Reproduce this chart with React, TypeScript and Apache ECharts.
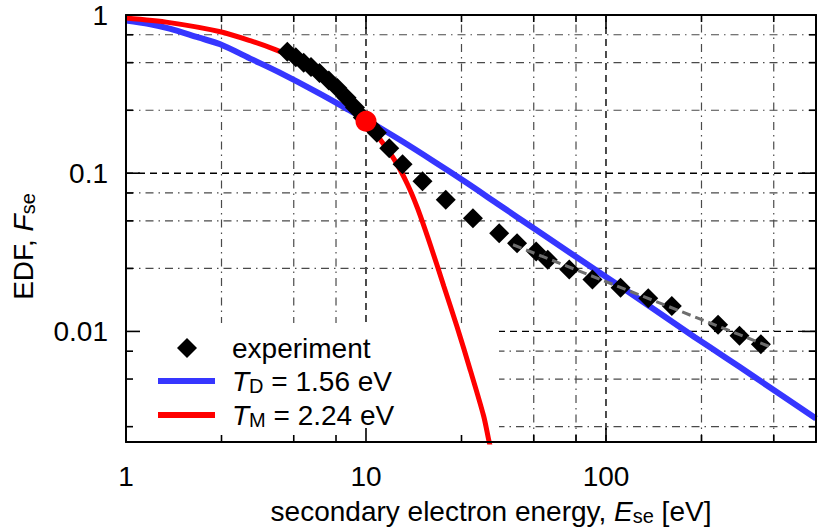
import React, { useEffect, useRef } from 'react';
import * as echarts from 'echarts';

// ---- axes ----
const X_MIN = 1;
const X_MAX = 750;
const Y_MIN = 0.002;
const Y_MAX = 1;
const X_MAJOR = [1, 10, 100];
const X_MINOR = [2.5, 5, 7.5, 25, 50, 75, 250, 500];
const Y_MAJOR = [0.01, 0.1, 1];
const Y_MINOR = [0.0025, 0.005, 0.0075, 0.025, 0.05, 0.075, 0.25, 0.5, 0.75];
const X_TICK_LABELS = ['1', '10', '100'];
const Y_TICK_LABELS = ['0.01', '0.1', '1'];

// ---- experiment ----
const EXP_E = [4.7, 5.1, 5.5, 5.9, 6.4, 7.0, 7.6, 8.3, 9.0, 9.7, 10.4, 11.1, 12.5, 14.2, 17.2, 21.5, 27.9, 35.9, 42.6, 51.2, 57.2, 70.3, 87.8, 115, 150, 188, 293, 360, 442];
const EXP_F = [0.585, 0.54, 0.5, 0.47, 0.43, 0.385, 0.345, 0.3, 0.26, 0.225, 0.2, 0.18, 0.144, 0.114, 0.089, 0.068, 0.052, 0.0418, 0.0361, 0.032, 0.0284, 0.0246, 0.0213, 0.0189, 0.0162, 0.0145, 0.011, 0.0094, 0.0083];

// ---- T_D = 1.56 eV curve ----
const TD_E = [1, 1.25, 1.52, 2.0, 2.47, 3.35, 4.33, 6.33, 8.66, 10, 13.93, 19.26, 26.36, 35.05, 49.85, 99.8, 150.3, 233.6, 311, 416, 750];
const TD_F = [0.924, 0.878, 0.82, 0.721, 0.653, 0.524, 0.435, 0.322, 0.247, 0.2185, 0.1614, 0.1182, 0.0866, 0.0646, 0.045, 0.02216, 0.01459, 0.00923, 0.00692, 0.00515, 0.00282];

// ---- T_M = 2.24 eV curve ----
const TM_E = [1, 1.52, 2.445, 3.36, 4.19, 5.04, 6.05, 7.06, 8.07, 9.0, 10, 11.52, 13.13, 14.9, 16.39, 18.59, 21.12, 23.97, 27.2, 30.9, 32.4, 34];
const TM_F = [0.957, 0.895, 0.786, 0.681, 0.604, 0.534, 0.447, 0.371, 0.307, 0.257, 0.213, 0.1614, 0.1218, 0.0849, 0.0601, 0.0348, 0.01924, 0.01066, 0.00569, 0.00293, 0.00209, 0.0015];

// ---- power-law fit (grey dashed) ----
const FIT_E = [41, 492];
const FIT_F = [0.0353, 0.0079];

// ---- matching point ----
const MATCH_E = [10];
const MATCH_F = [0.213];

const FONT = 'Liberation Sans';

const RICH: any = {
  n: { fontSize: 28, fontFamily: FONT, color: '#000', lineHeight: 30 },
  i: { fontSize: 28, fontFamily: FONT, fontStyle: 'italic', color: '#000', lineHeight: 30 },
  s: { fontSize: 20, fontFamily: FONT, color: '#000', verticalAlign: 'bottom', lineHeight: 16 },
};

const LEGEND_TEXT: Record<string, string> = {
  experiment: '{n|experiment}',
  TD: '{i|T}{s|D}{n| = 1.56 eV}',
  TM: '{i|T}{s|M}{n| = 2.24 eV}',
};

const zip = (a: number[], b: number[]) => a.map((v, i) => [v, b[i]]);

function labelFor(v: number, majors: number[], labels: string[]) {
  for (let i = 0; i < majors.length; i++) {
    if (Math.abs(v / majors[i] - 1) < 1e-6) return labels[i];
  }
  return '';
}

export default function App() {
  const ref = useRef<HTMLDivElement>(null);
  useEffect(() => {
    if (!ref.current) return;
    const chart = echarts.init(ref.current, undefined, { renderer: 'svg' });

    // grid lines: [value, 1, dir(0=vertical,1=horizontal), minor]
    const gridData: number[][] = [];
    X_MAJOR.forEach((v) => gridData.push([v, 1, 0, 0]));
    X_MINOR.forEach((v) => gridData.push([v, 1, 0, 1]));
    Y_MAJOR.forEach((v) => gridData.push([v, 1, 1, 0]));
    Y_MINOR.forEach((v) => gridData.push([v, 1, 1, 1]));

    const axisCommon = {
      type: 'log' as const,
      logBase: 10,
      z: 9,
      axisLine: { show: true, onZero: false, lineStyle: { color: '#000', width: 2 } },
      axisTick: { show: false },
      splitLine: { show: false },
      minorTick: { show: false },
      minorSplitLine: { show: false },
    };

    const legendText = {
      fontSize: 28,
      fontFamily: FONT,
      color: '#000',
      lineHeight: 30,
      rich: RICH,
    };

    chart.setOption({
      animation: false,
      backgroundColor: '#fff',
      grid: { left: 126, top: 15, width: 696, height: 431, containLabel: false },
      xAxis: [
        {
          ...axisCommon,
          position: 'bottom',
          min: X_MIN,
          max: X_MAX,
          axisLabel: {
            margin: 20,
            fontSize: 28,
            fontFamily: FONT,
            color: '#000',
            formatter: (v: number) => labelFor(v, X_MAJOR, X_TICK_LABELS),
          },
          name: '{n|secondary electron energy, }{i|E}{s|se}{n| [eV]}',
          nameLocation: 'middle',
          nameGap: 54,
          nameTextStyle: { rich: RICH, padding: [0, 0, 0, 40] },
        },
        {
          ...axisCommon,
          position: 'top',
          min: X_MIN,
          max: X_MAX,
          axisLabel: { show: false },
        },
      ],
      yAxis: [
        {
          ...axisCommon,
          position: 'left',
          min: Y_MIN,
          max: Y_MAX,
          axisLabel: {
            margin: 18,
            fontSize: 28,
            fontFamily: FONT,
            color: '#000',
            formatter: (v: number) => labelFor(v, Y_MAJOR, Y_TICK_LABELS),
          },
          name: '{n|EDF, }{i|F}{s|se}',
          nameLocation: 'middle',
          nameGap: 88,
          nameTextStyle: { rich: RICH, padding: [0, 36, 0, 0] },
        },
        {
          ...axisCommon,
          position: 'right',
          min: Y_MIN,
          max: Y_MAX,
          axisLabel: { show: false },
        },
      ],
      legend: [
        {
          orient: 'vertical',
          left: 177,
          top: 333,
          padding: 0,
          itemWidth: 20,
          itemHeight: 20,
          itemGap: 0,
          selectedMode: false,
          data: [{ name: 'experiment', icon: 'diamond' }],
          formatter: (n: string) => LEGEND_TEXT[n] ?? n,
          textStyle: { ...legendText, padding: [0, 0, 0, 30] },
          z: 10,
        },
        {
          orient: 'vertical',
          left: 158,
          top: 366,
          padding: 0,
          itemWidth: 57,
          itemHeight: 6,
          itemGap: 4,
          selectedMode: false,
          data: [
            { name: 'TD', icon: 'rect' },
            { name: 'TM', icon: 'rect' },
          ],
          formatter: (n: string) => LEGEND_TEXT[n] ?? n,
          textStyle: { ...legendText, padding: [0, 0, 0, 12] },
          z: 10,
        },
      ],
      graphic: [
        {
          type: 'rect',
          z: 1,
          silent: true,
          shape: { x: 127, y: 323, width: 372, height: 122 },
          style: { fill: '#fff' },
        },
      ],
      series: [
        {
          type: 'custom',
          name: 'grid',
          z: 0,
          silent: true,
          encode: { x: 0, y: 1 },
          data: gridData,
          renderItem: (params: any, api: any) => {
            const v = api.value(0);
            const dir = api.value(2);
            const minor = api.value(3);
            const a = dir === 0 ? api.coord([v, Y_MIN]) : api.coord([X_MIN, v]);
            const b = dir === 0 ? api.coord([v, Y_MAX]) : api.coord([X_MAX, v]);
            return {
              type: 'line',
              shape: { x1: a[0], y1: a[1], x2: b[0], y2: b[1] },
              style: {
                stroke: minor ? '#4a4a4a' : '#000',
                lineWidth: minor ? 1.2 : 1.4,
                lineDash: minor ? [8, 5, 1.5, 5] : [7, 5],
                fill: null,
              },
            };
          },
        },
        {
          type: 'line',
          name: 'TD',
          z: 3,
          data: zip(TD_E, TD_F),
          symbol: 'none',
          showSymbol: false,
          smooth: 0.3,
          lineStyle: { color: '#3636ff', width: 6 },
          itemStyle: { color: '#3636ff' },
        },
        {
          type: 'line',
          name: 'TM',
          z: 4,
          data: zip(TM_E, TM_F),
          symbol: 'none',
          showSymbol: false,
          smooth: 0.3,
          lineStyle: { color: '#ff0000', width: 5 },
          itemStyle: { color: '#ff0000' },
        },
        {
          type: 'scatter',
          name: 'experiment',
          z: 5,
          data: zip(EXP_E, EXP_F),
          symbol: 'diamond',
          symbolSize: 20,
          itemStyle: { color: '#000', opacity: 1 },
        },
        {
          type: 'line',
          name: 'fit',
          z: 6,
          data: zip(FIT_E, FIT_F),
          symbol: 'none',
          showSymbol: false,
          lineStyle: { color: '#6e6e6e', width: 3, type: [9, 5] },
        },
        {
          type: 'scatter',
          name: 'match',
          z: 7,
          data: zip(MATCH_E, MATCH_F),
          symbol: 'circle',
          symbolSize: 21,
          itemStyle: { color: '#ff0000', opacity: 1 },
        },
        {
          type: 'custom',
          name: 'ticks',
          z: 8,
          silent: true,
          encode: { x: 0, y: 1 },
          data: gridData,
          renderItem: (params: any, api: any) => {
            const v = api.value(0);
            const dir = api.value(2);
            const minor = api.value(3);
            const len = minor ? 7 : 14;
            const style = { stroke: '#000', lineWidth: 1.6, fill: null };
            if (dir === 0) {
              const p = api.coord([v, Y_MIN]);
              const q = api.coord([v, Y_MAX]);
              return {
                type: 'group',
                children: [
                  { type: 'line', shape: { x1: p[0], y1: p[1], x2: p[0], y2: p[1] - len }, style },
                  { type: 'line', shape: { x1: q[0], y1: q[1], x2: q[0], y2: q[1] + len }, style },
                ],
              };
            }
            const p = api.coord([X_MIN, v]);
            const q = api.coord([X_MAX, v]);
            return {
              type: 'group',
              children: [
                { type: 'line', shape: { x1: p[0], y1: p[1], x2: p[0] + len, y2: p[1] }, style },
                { type: 'line', shape: { x1: q[0], y1: q[1], x2: q[0] - len, y2: q[1] }, style },
              ],
            };
          },
        },
      ],
    });
    return () => chart.dispose();
  }, []);

  return (
    <div
      ref={ref}
      style={{ position: 'fixed', left: 0, top: 0, width: 819, height: 531, background: '#fff' }}
    />
  );
}
